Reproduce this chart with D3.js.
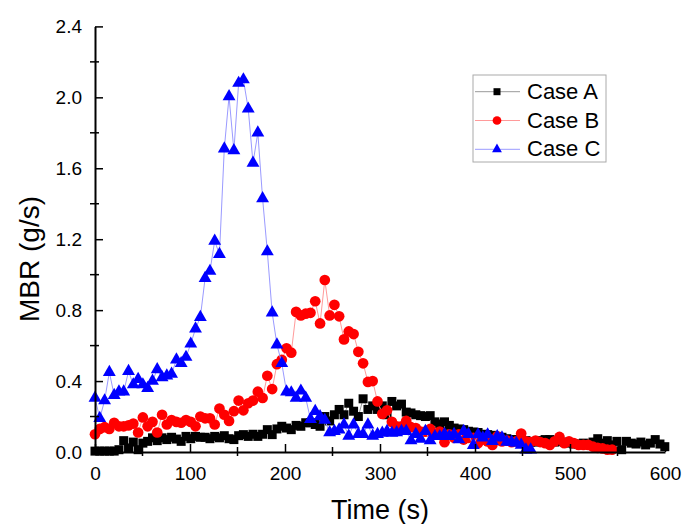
<!DOCTYPE html>
<html>
<head>
<meta charset="utf-8">
<script src="https://cdn.jsdelivr.net/npm/d3@7"></script>
<style>
  body { margin: 0; background: #fff; }
  text { font-family: "Liberation Sans", Arial, sans-serif; }
</style>
</head>
<body>
<div id="chart"></div>
<script>
// sample times (s)
const time = [0, 5, 10.1, 15.1, 20.2, 25.2, 30.2, 35.3, 40.3, 45.4, 50.4, 55.4, 60.5, 65.5, 70.6, 75.6, 80.6, 85.7, 90.7, 95.8,
  100.8, 105.8, 110.9, 115.9, 121, 126, 131, 136.1, 141.1, 146.2, 151.2, 156.2, 161.3, 166.3, 171.4, 176.4, 181.4, 186.5, 191.5, 196.6,
  201.6, 206.6, 211.7, 216.7, 221.8, 226.8, 231.8, 236.9, 241.9, 247, 252, 257, 262.1, 267.1, 272.2, 277.2, 282.2, 287.3, 292.3, 297.4,
  302.4, 307.4, 312.5, 317.5, 322.6, 327.6, 332.6, 337.7, 342.7, 347.8, 352.8, 357.8, 362.9, 367.9, 373, 378, 383, 388.1, 393.1, 398.2,
  403.2, 408.2, 413.3, 418.3, 423.4, 428.4, 433.4, 438.5, 443.5, 448.6, 453.6, 458.6, 463.7, 468.7, 473.8, 478.8, 483.8, 488.9, 493.9, 499,
  504, 509, 514.1, 519.1, 524.2, 529.2, 534.2, 539.3, 544.3, 549.4, 554.4, 559.4, 564.5, 569.5, 574.6, 579.6, 584.6, 589.7, 594.7, 599.8]

const caseA = [0.005, 0.005, 0.005, 0.005, 0.005, 0.013, 0.064, 0.023, 0.056, 0.013,
  0.05, 0.06, 0.08, 0.064, 0.08, 0.07, 0.083, 0.073, 0.06, 0.088,
  0.075, 0.088, 0.083, 0.083, 0.075, 0.088, 0.08, 0.092, 0.075, 0.07,
  0.092, 0.098, 0.088, 0.10, 0.088, 0.10, 0.126, 0.098, 0.13, 0.145,
  0.135, 0.126, 0.15, 0.145, 0.165, 0.165, 0.155, 0.145, 0.20, 0.175,
  0.21, 0.24, 0.21, 0.275, 0.23, 0.20, 0.30, 0.24, 0.26, 0.24,
  0.26, 0.21, 0.285, 0.26, 0.27, 0.225, 0.22, 0.21, 0.205, 0.20,
  0.205, 0.17, 0.158, 0.17, 0.15, 0.135, 0.13, 0.126, 0.117, 0.113,
  0.11, 0.10, 0.098, 0.094, 0.088, 0.083, 0.075, 0.07, 0.07, 0.07,
  0.064, 0.056, 0.056, 0.064, 0.07, 0.07, 0.056, 0.06, 0.056, 0.05,
  0.045, 0.045, 0.05, 0.045, 0.056, 0.075, 0.05, 0.064, 0.04, 0.06,
  0.013, 0.06, 0.05, 0.045, 0.056, 0.04, 0.05, 0.07, 0.045, 0.03]

const caseB = [0.10, 0.13, 0.14, 0.13, 0.165, 0.145, 0.145, 0.15, 0.16, 0.11,
  0.195, 0.145, 0.17, 0.11, 0.21, 0.155, 0.18, 0.17, 0.165, 0.18,
  0.17, 0.145, 0.20, 0.19, 0.19, 0.155, 0.245, 0.21, 0.175, 0.23,
  0.29, 0.235, 0.275, 0.29, 0.34, 0.305, 0.43, 0.355, 0.495, 0.52,
  0.585, 0.56, 0.79, 0.77, 0.78, 0.785, 0.85, 0.725, 0.97, 0.77,
  0.83, 0.765, 0.635, 0.68, 0.665, 0.565, 0.50, 0.395, 0.40, 0.285,
  0.215, 0.235, 0.17, 0.145, 0.145, 0.175, 0.14, 0.135, 0.115, 0.115,
  0.13, 0.10, 0.115, 0.055, 0.10, 0.08, 0.10, 0.07, 0.08, 0.08,
  0.05, 0.07, 0.06, 0.04, 0.088, 0.06, 0.064, 0.055, 0.06, 0.104,
  0.06, 0.056, 0.064, 0.056, 0.05, 0.04, 0.06, 0.085, 0.05, 0.06,
  0.05, 0.04, 0.04, 0.04, 0.03, 0.023, 0.02, 0.013, 0.013]

const caseC = [0.305, 0.19, 0.29, 0.45, 0.32, 0.34, 0.34, 0.455, 0.38, 0.41,
  0.38, 0.36, 0.40, 0.465, 0.42, 0.43, 0.44, 0.52, 0.50, 0.535,
  0.61, 0.695, 0.76, 0.98, 1.02, 1.19, 1.115, 1.71, 2.005, 1.70,
  2.08, 2.10, 1.935, 1.63, 1.80, 1.43, 1.13, 0.785, 0.605, 0.50,
  0.34, 0.335, 0.305, 0.345, 0.305, 0.185, 0.23, 0.20, 0.18, 0.11,
  0.117, 0.126, 0.154, 0.09, 0.154, 0.10, 0.10, 0.154, 0.09, 0.10,
  0.107, 0.117, 0.107, 0.11, 0.117, 0.117, 0.064, 0.10, 0.073, 0.117,
  0.064, 0.088, 0.088, 0.10, 0.088, 0.10, 0.07, 0.117, 0.10, 0.038,
  0.098, 0.08, 0.098, 0.06, 0.088, 0.08, 0.056, 0.056, 0.05, 0.04,
  0.013, 0.013]

const seriesNames = ['Case A', 'Case B', 'Case C']
const xTicks = [0, 100, 200, 300, 400, 500, 600]
const yTicks = [0, 0.4, 0.8, 1.2, 1.6, 2.0, 2.4]

const width = 683
const height = 524

let svg = d3.select('#chart')
  .append('svg')
  .attr('width', width)
  .attr('height', height)

let x = d3.scaleLinear().domain([0, 600]).range([95, 665])
let y = d3.scaleLinear().domain([0, 2.4]).range([452, 26.4])

let series = [
  { name: seriesNames[0], values: caseA, color: '#000', line: '#999', shape: d3.symbolSquare, size: 81, legSize: 49 },
  { name: seriesNames[1], values: caseB, color: '#ff0000', line: '#ff9a9a', shape: d3.symbolCircle, size: 90, legSize: 60 },
  { name: seriesNames[2], values: caseC, color: '#0000ff', line: '#9a9aff', shape: d3.symbolTriangle, size: 72, legSize: 42 }
]

// data
let line = d3.line()
  .x((d, i) => x(time[i]))
  .y(d => y(d))

series.forEach(s => {
  let g = svg.append('g')
  g.append('path')
    .datum(s.values)
    .attr('d', line)
    .attr('fill', 'none')
    .attr('stroke', s.line)
    .attr('stroke-width', 1)

  g.selectAll('path.pt')
    .data(s.values)
    .enter()
    .append('path')
    .attr('class', 'pt')
    .attr('d', d3.symbol().type(s.shape).size(s.size))
    .attr('transform', (d, i) => `translate(${x(time[i])},${y(d)})`)
    .attr('fill', s.color)
})

// axes
let xAxis = svg.append('g')
  .attr('transform', `translate(0,${y(0)})`)
  .call(d3.axisBottom(x).tickValues(xTicks).tickSizeInner(-8).tickSizeOuter(0).tickPadding(15))
let yAxis = svg.append('g')
  .attr('transform', `translate(${x(0)},0)`)
  .call(d3.axisLeft(y).tickValues(yTicks).tickFormat(d3.format('.1f')).tickSizeInner(-8).tickSizeOuter(0).tickPadding(13))

;[xAxis, yAxis].forEach(a => {
  a.select('.domain').attr('stroke', '#000').attr('stroke-width', 2)
  a.selectAll('.tick line').attr('stroke', '#000').attr('stroke-width', 1.5)
  a.selectAll('.tick text').attr('font-size', 19).attr('fill', '#000')
    .attr('font-family', '"Liberation Sans", Arial, sans-serif')
})

xAxis.selectAll('.minor')
  .data(d3.range(50, 600, 100))
  .enter()
  .append('line')
  .attr('x1', d => x(d)).attr('x2', d => x(d))
  .attr('y1', -5).attr('y2', 4)
  .attr('stroke', '#000').attr('stroke-width', 1.5)

yAxis.selectAll('.minor')
  .data(d3.range(0.2, 2.4, 0.4))
  .enter()
  .append('line')
  .attr('y1', d => y(d)).attr('y2', d => y(d))
  .attr('x1', -5).attr('x2', 4)
  .attr('stroke', '#000').attr('stroke-width', 1.5)

// axis titles
svg.append('text')
  .attr('x', 380)
  .attr('y', 519)
  .attr('text-anchor', 'middle')
  .attr('font-size', 27)
  .text('Time (s)')

svg.append('text')
  .attr('transform', 'translate(39,259) rotate(-90)')
  .attr('text-anchor', 'middle')
  .attr('font-size', 28)
  .text('MBR (g/s)')

// legend
let legend = svg.append('g')
legend.append('rect')
  .attr('x', 473).attr('y', 75)
  .attr('width', 133).attr('height', 87)
  .attr('fill', '#fff')
  .attr('stroke', '#aaa')
  .attr('stroke-width', 1)

legend.selectAll('g.item')
  .data(series)
  .enter()
  .append('g')
  .attr('class', 'item')
  .attr('transform', (d, i) => `translate(0,${91.7 + i * 28.8})`)
  .each(function(d) {
    let group = d3.select(this)
    group.append('line')
      .attr('x1', 475).attr('x2', 520)
      .attr('stroke', d.line).attr('stroke-width', 1)
    group.append('path')
      .attr('d', d3.symbol().type(d.shape).size(d.legSize))
      .attr('transform', 'translate(497,0)')
      .attr('fill', d.color)
    group.append('text')
      .attr('x', 527)
      .attr('y', 7)
      .attr('font-size', 22)
      .text(d.name)
  })
</script>
</body>
</html>
